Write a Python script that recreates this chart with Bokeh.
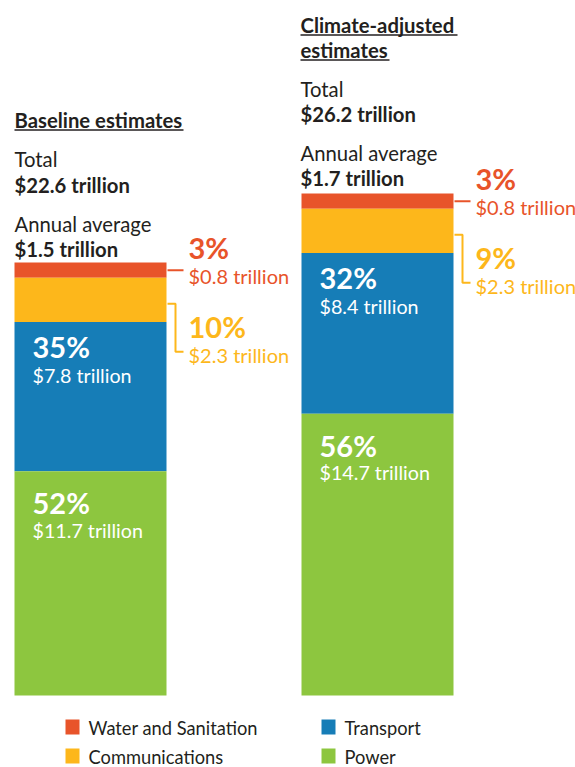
import numpy as np
from bokeh.plotting import figure
from bokeh.models import Range1d, ColumnDataSource
from bokeh.core.properties import value
from bokeh.embed import file_html
from bokeh.resources import INLINE

# ---------------- data ----------------
sectors = ["Water and Sanitation", "Communications", "Transport", "Power"]  # top -> bottom
colors = ["#E8542A", "#FDB71B", "#167DB7", "#8DC63F"]
baseline_vals = [0.8, 2.3, 7.8, 11.7]
climate_vals = [0.8, 2.3, 8.4, 14.7]
baseline_pct = [3, 10, 35, 52]
climate_pct = [3, 9, 32, 56]
totals = [22.6, 26.2]
annual_avg = [1.5, 1.7]
scenario_titles = [["Baseline estimates"], ["Climate-adjusted", "estimates"]]
legend_order = ["Water and Sanitation", "Transport", "Communications", "Power"]

# ---------------- layout ----------------
W, H = 575, 767
PX = 19.16          # pixels per trillion
BOT = 72            # px from figure bottom to bar base
FONT = "Lato"
DARK = "#231F20"

p = figure(width=W, height=H, output_backend="svg", toolbar_location=None,
           x_range=Range1d(0, W), y_range=Range1d(-BOT / PX, (H - BOT) / PX),
           min_border=0, outline_line_color=None)
p.axis.visible = False
p.grid.visible = False
p.background_fill_color = "white"
p.border_fill_color = "white"

def off(px):
    return px / PX

def ytop(t):
    return (H - t - BOT) / PX

bar_x = [90, 377]
bar_w = 152
scen_vals = [baseline_vals, climate_vals]
scen_pct = [baseline_pct, climate_pct]

def txt(x, y, s, size, color=DARK, style="normal"):
    fix = 1.5 + 0.28 * size   # svg text baseline compensation (px)
    p.text(x=[x], y=[y + off(fix)], text=[s], text_font=value(FONT),
           text_font_size=f"{size}px", text_color=color, text_font_style=style,
           text_align="left", text_baseline="alphabetic")

HDR = 20.3
for i in range(2):
    vals = np.array(scen_vals[i])
    rev = vals[::-1]
    bottoms_rev = np.concatenate([[0], np.cumsum(rev)[:-1]])
    tops_rev = bottoms_rev + rev
    bottoms = bottoms_rev[::-1]
    tops = tops_rev[::-1]
    src = ColumnDataSource(dict(x=[bar_x[i]] * 4, bottom=bottoms, top=tops, color=colors))
    p.vbar(x="x", width=bar_w, bottom="bottom", top="top", color="color", source=src,
           line_color=None)

    total_top = tops[0]
    left = bar_x[i] - bar_w / 2
    right = bar_x[i] + bar_w / 2
    tx = left + (0 if i == 0 else -1)

    # header block
    extra = 1 if i == 1 else 0
    titles = scenario_titles[i]
    ul_widths = [[169], [157, 89]][i]
    for k, t in enumerate(titles):
        dy = 135 + extra + 25 * (len(titles) - 1 - k)
        txt(tx, total_top + off(dy), t, HDR, style="bold")
        p.line(x=[tx, tx + ul_widths[k]], y=[total_top + off(dy - 2.5)] * 2,
               line_color=DARK, line_width=1.4)
    txt(tx, total_top + off(96 + extra), "Total", HDR)
    txt(tx, total_top + off(70 + 2 * extra), f"${totals[i]} trillion", HDR, style="bold")
    txt(tx, total_top + off(31 + 2 * extra), "Annual average", HDR)
    txt(tx, total_top + off(6 + 2 * extra), f"${annual_avg[i]} trillion", HDR, style="bold")

    # inside labels (Transport, Power)
    inner_off = {2: (34.5, 61), 3: (41, 66)}
    for j in (2, 3):
        a, b = inner_off[j]
        txt(left + 18, tops[j] - off(a), f"{scen_pct[i][j]}%", 29, color="white", style="bold")
        txt(left + 18, tops[j] - off(b), f"${scen_vals[i][j]} trillion", 19.7, color="white")

    # right labels: Water
    rx = right + 22
    wc = (tops[0] + bottoms[0]) / 2
    p.line(x=[right + 1, right + 17], y=[wc, wc], line_color=colors[0], line_width=2)
    txt(rx, tops[0] + off(5), f"{scen_pct[i][0]}%", 29, color=colors[0], style="bold")
    txt(rx, tops[0] - off(20.5), f"${scen_vals[i][0]} trillion", 20, color=colors[0])

    # right labels: Communications (bracket)
    cc = (tops[1] + bottoms[1]) / 2
    vx = right + 9
    yb1 = cc - off(4)
    yb2 = cc - off(52)
    p.line(x=[right + 1, vx, vx, right + 17], y=[yb1, yb1, yb2, yb2],
           line_color=colors[1], line_width=2)
    txt(rx, cc - off(36.5), f"{scen_pct[i][1]}%", 29, color=colors[1], style="bold")
    txt(rx, cc - off(62), f"${scen_vals[i][1]} trillion", 20, color=colors[1])

# ---------------- legend ----------------
leg_x = [65, 321]
leg_row_tops = [719, 748]
for k, name in enumerate(legend_order):
    col = k % 2
    row = k // 2
    c = colors[sectors.index(name)]
    t = leg_row_tops[row]
    p.rect(x=[leg_x[col] + 7], y=[ytop(t + 7.5)], width=14, height=off(15),
           color=c, line_color=None)
    txt(leg_x[col] + 23, ytop(t + 15), name, 18.3)

open("out.html", "w").write(file_html(p, INLINE))
